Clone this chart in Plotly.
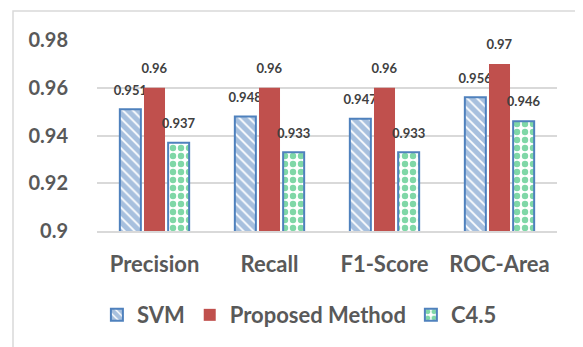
import plotly.graph_objects as go

categories = ["Precision", "Recall", "F1-Score", "ROC-Area"]
svm = [0.951, 0.948, 0.947, 0.956]
proposed = [0.96, 0.96, 0.96, 0.97]
c45 = [0.937, 0.933, 0.933, 0.946]
y_ticks = [0.9, 0.92, 0.94, 0.96, 0.98]
y_tick_labels = ["0.9", "0.92", "0.94", "0.96", "0.98"]

FONT = "Lato"
BLUE = "#4F81BD"
RED = "#C0504D"
GREEN = "#00B050"
GRID = "#D9D9D9"
TXT = "#595959"


def labels(vals):
    return [f"<span style='font-size:13px'>{v:g}</span><br><span style='font-size:1px'> </span>"
            for v in vals]


LABEL_FONT = dict(family=FONT, size=9, color="#404040", weight="bold")

fig = go.Figure()
fig.add_trace(go.Bar(
    name="SVM", x=categories, y=svm,
    text=labels(svm), textposition="outside", constraintext="none", cliponaxis=False,
    textfont=LABEL_FONT,
    marker=dict(color="white", line=dict(color=BLUE, width=2),
                pattern=dict(shape="\\", fgcolor=BLUE, bgcolor="white", size=7, solidity=0.75)),
))
fig.add_trace(go.Bar(
    name="Proposed Method", x=categories, y=proposed,
    text=labels(proposed), textposition="outside", constraintext="none", cliponaxis=False,
    textfont=LABEL_FONT,
    marker=dict(color=RED, line=dict(color=RED, width=0)),
))
fig.add_trace(go.Bar(
    name="C4.5", x=categories, y=c45,
    text=labels(c45), textposition="outside", constraintext="none", cliponaxis=False,
    textfont=LABEL_FONT,
    marker=dict(color="white", line=dict(color=BLUE, width=2),
                pattern=dict(shape=".", fgcolor=GREEN, bgcolor="white", size=8, solidity=0.5)),
))

# The page body adds an 8px offset, so margins are shifted by 8px to compensate.
fig.update_layout(
    width=583, height=347,
    margin=dict(l=89, r=34, t=32, b=124, autoexpand=False),
    paper_bgcolor="white", plot_bgcolor="white",
    barmode="group", bargap=0.37, bargroupgap=0.13,
    font=dict(family=FONT, color=TXT),
    showlegend=True,
    legend=dict(orientation="h", x=0.44, xanchor="center", y=-0.44, yanchor="middle",
                font=dict(family=FONT, size=22, color=TXT, weight="bold"),
                itemwidth=30, traceorder="normal", bgcolor="rgba(0,0,0,0)"),
    xaxis=dict(showgrid=False, showline=True, linecolor=GRID, linewidth=1.5, automargin=False,
               ticks="outside", ticklen=13, tickcolor="rgba(0,0,0,0)",
               tickfont=dict(family=FONT, size=22, color=TXT, weight="bold")),
    yaxis=dict(range=[0.9, 0.98], tickvals=y_ticks, ticktext=y_tick_labels, automargin=False,
               showgrid=True, gridcolor=GRID, gridwidth=1.5, zeroline=False,
               ticks="outside", ticklen=24, tickcolor="rgba(0,0,0,0)",
               tickfont=dict(family=FONT, size=20, color=TXT, weight="bold")),
    shapes=[dict(type="rect", xref="paper", yref="paper",
                 x0=-0.1826, x1=1.3, y0=-0.8, y1=1.152,
                 line=dict(color=GRID, width=1.5), fillcolor="rgba(0,0,0,0)", layer="below")],
)

fig.write_html("out.html")
